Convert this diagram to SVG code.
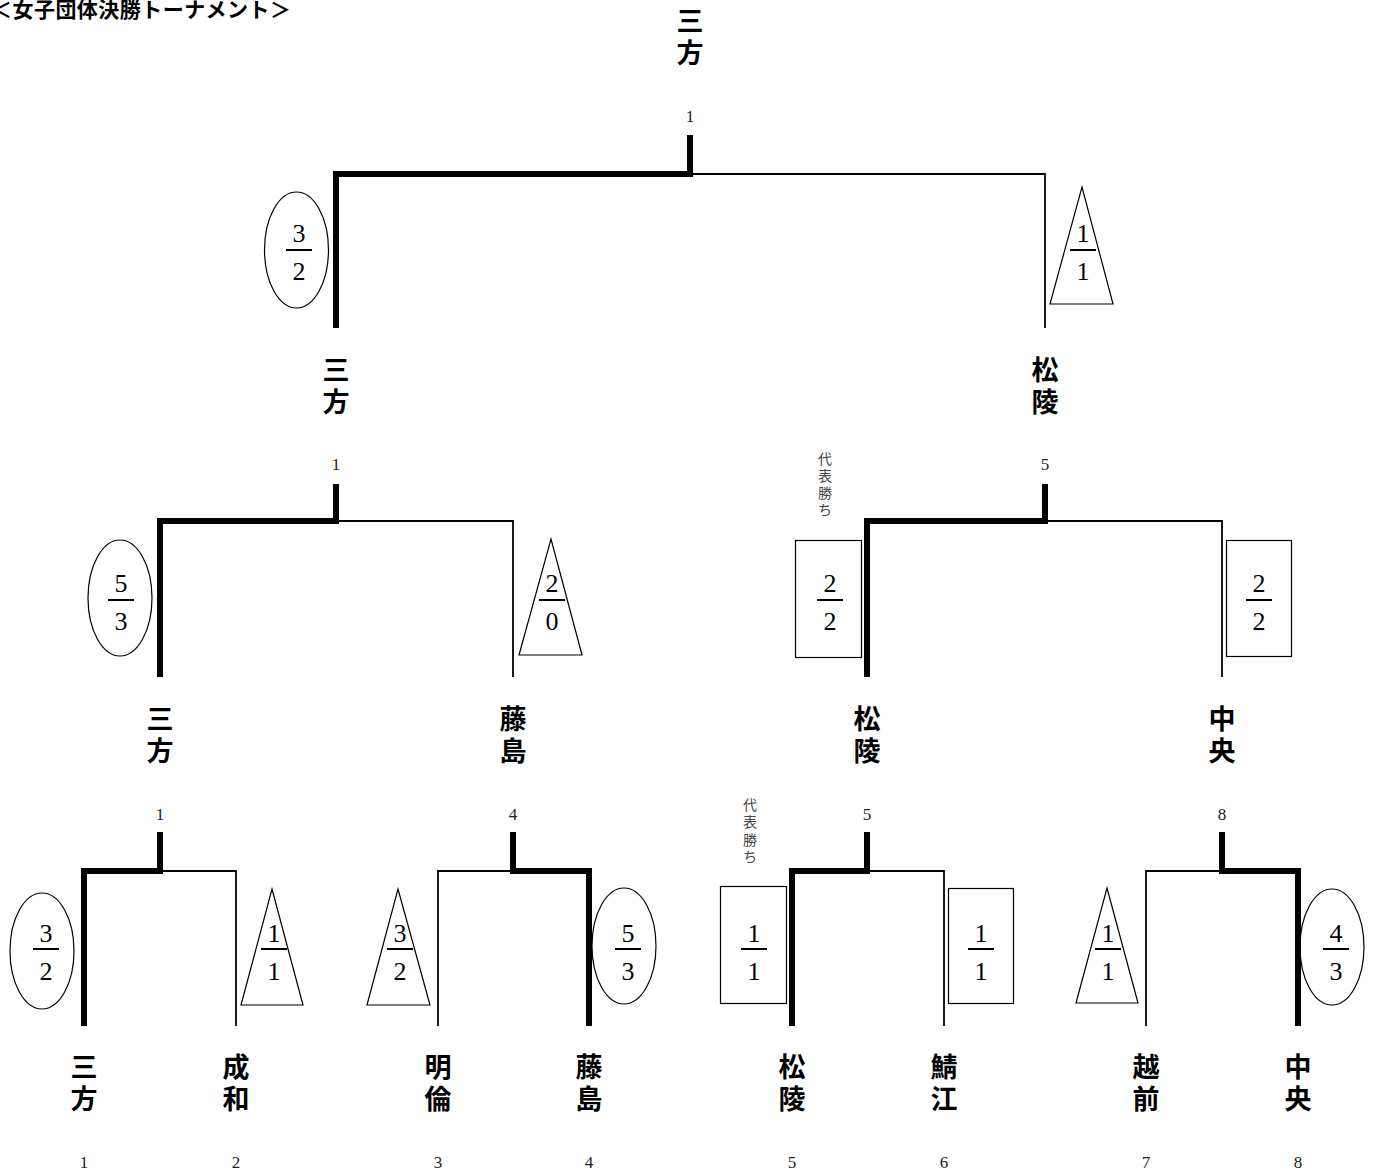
<svg xmlns="http://www.w3.org/2000/svg" width="1375" height="1174" viewBox="0 0 1375 1174">
<style>
.title{font-family:"Noto Sans CJK JP","Noto Sans CJK SC",sans-serif;font-size:21px;font-weight:bold;fill:#000}
.name{font-family:"Noto Sans CJK JP","Noto Sans CJK SC",sans-serif;font-size:27px;font-weight:bold;fill:#000;text-anchor:middle}
.num{font-family:"Liberation Serif","DejaVu Serif",serif;font-size:17px;fill:#222;text-anchor:middle}
.frac{font-family:"Liberation Serif","DejaVu Serif",serif;font-size:26px;fill:#000;text-anchor:middle}
.note{font-family:"Noto Sans CJK JP","Noto Sans CJK SC",sans-serif;font-size:14px;fill:#444;text-anchor:middle}
.shape{fill:none;stroke:#000;stroke-width:1.2}
.bar{stroke:#000;stroke-width:2}
.win{fill:none;stroke:#000;stroke-width:6;stroke-linejoin:miter;stroke-linecap:butt}
.lose{fill:none;stroke:#000;stroke-width:1.8;stroke-linecap:butt}
</style>
<rect x="0" y="0" width="1375" height="1174" fill="#fff"/>
<text class="title" x="-9" y="17" textLength="300" lengthAdjust="spacing">＜女子団体決勝トーナメント＞</text>

<g id="connectors">
<polyline class="win" points="336,328 336,174 690,174 690,135"/>
<polyline class="lose" points="690,174 1045,174 1045,328"/>
<polyline class="win" points="160,677 160,521 336,521 336,484"/>
<polyline class="lose" points="336,521 513,521 513,677"/>
<polyline class="win" points="867,677 867,521 1045,521 1045,484"/>
<polyline class="lose" points="1045,521 1222,521 1222,677"/>
<polyline class="win" points="84,1026 84,871 160,871 160,832"/>
<polyline class="lose" points="160,871 236,871 236,1026"/>
<polyline class="win" points="589,1026 589,871 513,871 513,832"/>
<polyline class="lose" points="513,871 438,871 438,1026"/>
<polyline class="win" points="792,1026 792,871 867,871 867,832"/>
<polyline class="lose" points="867,871 944,871 944,1026"/>
<polyline class="win" points="1298,1026 1298,871 1222,871 1222,832"/>
<polyline class="lose" points="1222,871 1146,871 1146,1026"/>
</g>

<g id="match-numbers">
<text class="num" x="690" y="122">1</text>
<text class="num" x="336" y="470">1</text>
<text class="num" x="1045" y="470">5</text>
<text class="num" x="160" y="820">1</text>
<text class="num" x="513" y="820">4</text>
<text class="num" x="867" y="820">5</text>
<text class="num" x="1222" y="820">8</text>
</g>

<g id="champion"><text class="name"><tspan x="690" y="31">三</tspan><tspan x="690" y="63">方</tspan></text></g>

<g id="r3-sanpo"><text class="name"><tspan x="336" y="380">三</tspan><tspan x="336" y="412">方</tspan></text></g>
<g id="r3-shoryo"><text class="name"><tspan x="1045" y="380">松</tspan><tspan x="1045" y="412">陵</tspan></text></g>

<g id="r2-sanpo"><text class="name"><tspan x="160" y="729">三</tspan><tspan x="160" y="761">方</tspan></text></g>
<g id="r2-fujishima"><text class="name"><tspan x="513" y="729">藤</tspan><tspan x="513" y="761">島</tspan></text></g>
<g id="r2-shoryo"><text class="name"><tspan x="867" y="729">松</tspan><tspan x="867" y="761">陵</tspan></text></g>
<g id="r2-chuo"><text class="name"><tspan x="1222" y="729">中</tspan><tspan x="1222" y="761">央</tspan></text></g>

<g id="team-1"><text class="name"><tspan x="84" y="1077">三</tspan><tspan x="84" y="1109">方</tspan></text><text class="num" x="84" y="1168">1</text></g>
<g id="team-2"><text class="name"><tspan x="236" y="1077">成</tspan><tspan x="236" y="1109">和</tspan></text><text class="num" x="236" y="1168">2</text></g>
<g id="team-3"><text class="name"><tspan x="438" y="1077">明</tspan><tspan x="438" y="1109">倫</tspan></text><text class="num" x="438" y="1168">3</text></g>
<g id="team-4"><text class="name"><tspan x="589" y="1077">藤</tspan><tspan x="589" y="1109">島</tspan></text><text class="num" x="589" y="1168">4</text></g>
<g id="team-5"><text class="name"><tspan x="792" y="1077">松</tspan><tspan x="792" y="1109">陵</tspan></text><text class="num" x="792" y="1168">5</text></g>
<g id="team-6"><text class="name"><tspan x="944" y="1077">鯖</tspan><tspan x="944" y="1109">江</tspan></text><text class="num" x="944" y="1168">6</text></g>
<g id="team-7"><text class="name"><tspan x="1146" y="1077">越</tspan><tspan x="1146" y="1109">前</tspan></text><text class="num" x="1146" y="1168">7</text></g>
<g id="team-8"><text class="name"><tspan x="1298" y="1077">中</tspan><tspan x="1298" y="1109">央</tspan></text><text class="num" x="1298" y="1168">8</text></g>

<!-- final scores -->
<g id="score-final-left"><ellipse class="shape" cx="296.5" cy="250" rx="32" ry="58"/><line class="bar" x1="286" y1="250" x2="312" y2="250"/><text class="frac" x="299" y="242">3</text><text class="frac" x="299" y="280">2</text></g>
<g id="score-final-right"><polygon class="shape" points="1082,187 1113,304 1050,304"/><line class="bar" x1="1070" y1="250" x2="1096" y2="250"/><text class="frac" x="1083" y="242">1</text><text class="frac" x="1083" y="280">1</text></g>

<!-- round 2 scores -->
<g id="score-r2a-left"><ellipse class="shape" cx="120" cy="598" rx="32" ry="58"/><line class="bar" x1="108" y1="600" x2="134" y2="600"/><text class="frac" x="121" y="592">5</text><text class="frac" x="121" y="630">3</text></g>
<g id="score-r2a-right"><polygon class="shape" points="551,539 582,655 519,655"/><line class="bar" x1="539" y1="600" x2="565" y2="600"/><text class="frac" x="552" y="592">2</text><text class="frac" x="552" y="630">0</text></g>
<g id="score-r2b-left"><text class="note"><tspan x="825" y="464">代</tspan><tspan x="825" y="481">表</tspan><tspan x="825" y="498">勝</tspan><tspan x="825" y="515">ち</tspan></text><rect class="shape" x="795.5" y="540.5" width="66" height="117"/><line class="bar" x1="817" y1="600" x2="843" y2="600"/><text class="frac" x="830" y="592">2</text><text class="frac" x="830" y="630">2</text></g>
<g id="score-r2b-right"><rect class="shape" x="1226.5" y="540.5" width="65" height="116"/><line class="bar" x1="1246" y1="600" x2="1272" y2="600"/><text class="frac" x="1259" y="592">2</text><text class="frac" x="1259" y="630">2</text></g>

<!-- round 1 scores -->
<g id="score-m1-left"><ellipse class="shape" cx="42" cy="951" rx="32" ry="58"/><line class="bar" x1="33" y1="949" x2="59" y2="949"/><text class="frac" x="46" y="942">3</text><text class="frac" x="46" y="980">2</text></g>
<g id="score-m1-right"><polygon class="shape" points="272,889 303,1005 241,1005"/><line class="bar" x1="261" y1="949" x2="287" y2="949"/><text class="frac" x="274" y="942">1</text><text class="frac" x="274" y="980">1</text></g>
<g id="score-m2-left"><polygon class="shape" points="398,889 430,1005 367,1005"/><line class="bar" x1="387" y1="949" x2="413" y2="949"/><text class="frac" x="400" y="942">3</text><text class="frac" x="400" y="980">2</text></g>
<g id="score-m2-right"><ellipse class="shape" cx="624" cy="946" rx="32" ry="58"/><line class="bar" x1="615" y1="949" x2="641" y2="949"/><text class="frac" x="628" y="942">5</text><text class="frac" x="628" y="980">3</text></g>
<g id="score-m3-left"><text class="note"><tspan x="750" y="810">代</tspan><tspan x="750" y="827">表</tspan><tspan x="750" y="845">勝</tspan><tspan x="750" y="862">ち</tspan></text><rect class="shape" x="720.5" y="886.5" width="66" height="117"/><line class="bar" x1="741" y1="949" x2="767" y2="949"/><text class="frac" x="754" y="942">1</text><text class="frac" x="754" y="980">1</text></g>
<g id="score-m3-right"><rect class="shape" x="948.5" y="888.5" width="65" height="115"/><line class="bar" x1="968" y1="949" x2="994" y2="949"/><text class="frac" x="981" y="942">1</text><text class="frac" x="981" y="980">1</text></g>
<g id="score-m4-left"><polygon class="shape" points="1107,888 1138,1003 1076,1003"/><line class="bar" x1="1095" y1="949" x2="1121" y2="949"/><text class="frac" x="1108" y="942">1</text><text class="frac" x="1108" y="980">1</text></g>
<g id="score-m4-right"><ellipse class="shape" cx="1332" cy="947" rx="32" ry="58"/><line class="bar" x1="1323" y1="949" x2="1349" y2="949"/><text class="frac" x="1336" y="942">4</text><text class="frac" x="1336" y="980">3</text></g>
</svg>
